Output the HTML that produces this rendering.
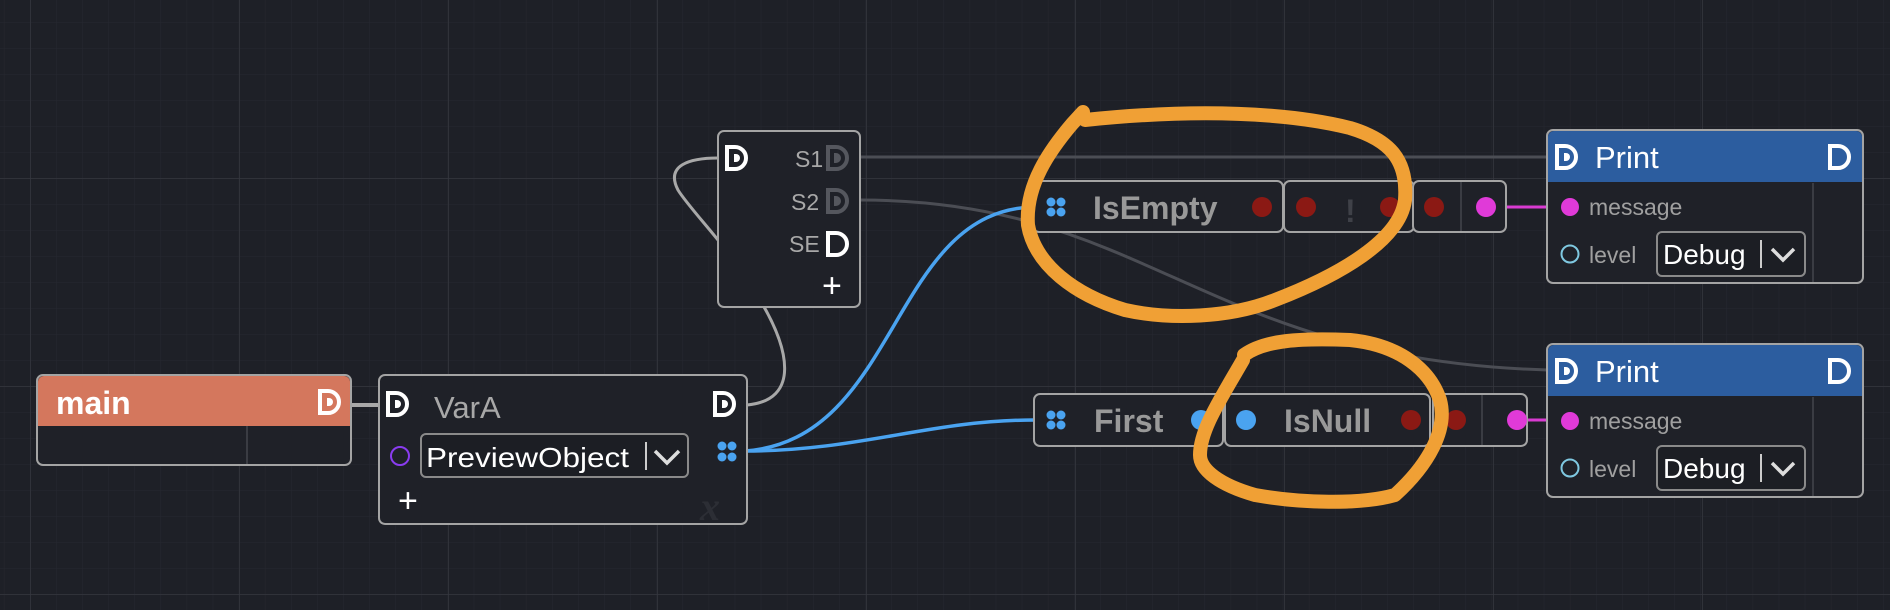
<!DOCTYPE html>
<html><head><meta charset="utf-8"><style>
html,body{margin:0;padding:0;background:#1e2027;}
svg{display:block;font-family:"Liberation Sans",sans-serif;}
</style></head><body>
<svg width="1890" height="610" viewBox="0 0 1890 610" xmlns="http://www.w3.org/2000/svg">
<defs>
<pattern id="minor" x="30" y="-30" width="26.1" height="26" patternUnits="userSpaceOnUse">
<path d="M0 0V26M0 0H26.1" stroke="#262830" stroke-width="1" fill="none"/>
</pattern>
<pattern id="major" x="30" y="-30" width="209" height="208" patternUnits="userSpaceOnUse">
<path d="M0 0V208M0 0H209" stroke="#35373f" stroke-width="1.5" fill="none"/>
</pattern>
<g id="dI"><path d="M2 2H10A11 11 0 0 1 10 24H2Z" fill="none" stroke="#fff" stroke-width="4"/><path d="M9 9H11A4 4 0 0 1 11 17H9Z" fill="#fff"/></g>
<g id="dO"><path d="M2 2H10A11 11 0 0 1 10 24H2Z" fill="none" stroke="#fff" stroke-width="4"/></g>
<g id="dG"><path d="M2 2H10A11 11 0 0 1 10 24H2Z" fill="none" stroke="#55575e" stroke-width="4"/><path d="M8 8H10A5 5 0 0 1 10 18H8Z" fill="#55575e"/></g>
</defs>
<rect width="1890" height="610" fill="#1e2027"/>
<rect width="1890" height="610" fill="url(#minor)"/>
<rect width="1890" height="610" fill="url(#major)"/>

<!-- wires -->
<path d="M351 405H380" stroke="#a8a8a8" stroke-width="4" fill="none"/>
<path d="M747 405C800 400 790 350 760 300C740 260 690 210 678 190C665 165 690 158 718 158" stroke="#a8a8a8" stroke-width="3" fill="none"/>
<path d="M860 157H1548" stroke="#4b4d54" stroke-width="3" fill="none"/>
<path d="M860 200C1150 200 1200 360 1548 370" stroke="#4b4d54" stroke-width="3" fill="none"/>
<path d="M745 451C900 440 890 210 1034 207" stroke="#4aa3f0" stroke-width="3.5" fill="none"/>
<path d="M745 451C860 451 930 420 1034 420" stroke="#4aa3f0" stroke-width="3.5" fill="none"/>
<path d="M1505 207H1548M1527 420H1548" stroke="#d93bd2" stroke-width="3" fill="none"/>

<!-- main -->
<rect x="37" y="375" width="314" height="90" rx="6" fill="#1f2128" stroke="#a4a4a4" stroke-width="2"/>
<path d="M38 426V382A6 6 0 0 1 44 376H344A6 6 0 0 1 350 382V426Z" fill="#d4775d"/>
<line x1="247" y1="426" x2="247" y2="464" stroke="#3a3c43" stroke-width="2"/>
<text x="56" y="414" font-size="32" font-weight="bold" fill="#fff">main</text>
<use href="#dI" x="318" y="389"/>

<!-- VarA -->
<rect x="379" y="375" width="368" height="149" rx="6" fill="#1f2128" stroke="#a4a4a4" stroke-width="2"/>
<use href="#dI" x="386" y="391"/>
<use href="#dI" x="713" y="391"/>
<text x="434" y="418" font-size="31" fill="#a8a8a8">VarA</text>
<circle cx="400" cy="456" r="9" fill="none" stroke="#8a3cf0" stroke-width="2"/>
<rect x="421" y="434" width="267" height="43" rx="5" fill="#1c1e24" stroke="#8a8a8a" stroke-width="2"/>
<text x="426" y="467" font-size="28" fill="#fff" textLength="203" lengthAdjust="spacingAndGlyphs">PreviewObject</text>
<line x1="646" y1="442" x2="646" y2="470" stroke="#ccc" stroke-width="2"/>
<path d="M655 451L667 463L679 451" fill="none" stroke="#ddd" stroke-width="3.5"/>
<g fill="#4aa3f0"><circle cx="722" cy="446" r="4.5"/><circle cx="732" cy="446" r="4.5"/><circle cx="722" cy="457" r="4.5"/><circle cx="732" cy="457" r="4.5"/></g>
<text x="398" y="512" font-size="34" fill="#fff">+</text>
<text x="700" y="520" font-size="40" font-style="italic" font-family="Liberation Serif,serif" font-weight="bold" fill="#2c2e35">x</text>

<!-- Sequence -->
<rect x="718" y="131" width="142" height="176" rx="6" fill="#1f2128" stroke="#a4a4a4" stroke-width="2"/>
<use href="#dI" x="725" y="145"/>
<text x="795" y="167" font-size="23" fill="#a8a8a8">S1</text><use href="#dG" x="826" y="145"/>
<text x="791" y="210" font-size="23" fill="#a8a8a8">S2</text><use href="#dG" x="826" y="188"/>
<text x="789" y="252" font-size="23" fill="#a8a8a8">SE</text><use href="#dO" x="826" y="231"/>
<text x="822" y="297" font-size="34" fill="#fff">+</text>

<!-- IsEmpty row -->
<rect x="1033" y="181" width="250" height="51" rx="6" fill="#1f2128" stroke="#a4a4a4" stroke-width="2"/>
<g fill="#4aa3f0"><circle cx="1051" cy="202" r="4.5"/><circle cx="1061" cy="202" r="4.5"/><circle cx="1051" cy="212" r="4.5"/><circle cx="1061" cy="212" r="4.5"/></g>
<text x="1093" y="219" font-size="32" font-weight="bold" fill="#999">IsEmpty</text>
<circle cx="1262" cy="207" r="10" fill="#8b1914"/>
<rect x="1284" y="181" width="130" height="51" rx="6" fill="#1f2128" stroke="#a4a4a4" stroke-width="2"/>
<circle cx="1306" cy="207" r="10" fill="#8b1914"/>
<text x="1345" y="222" font-size="32" font-weight="bold" fill="#3f4148">!</text>
<circle cx="1390" cy="207" r="10" fill="#8b1914"/>
<rect x="1413" y="181" width="93" height="51" rx="6" fill="#1f2128" stroke="#a4a4a4" stroke-width="2"/>
<line x1="1461" y1="182" x2="1461" y2="231" stroke="#3a3c43" stroke-width="2"/>
<circle cx="1434" cy="207" r="10" fill="#8b1914"/>
<circle cx="1486" cy="207" r="10" fill="#e03ad8"/>

<!-- First row -->
<rect x="1034" y="394" width="189" height="52" rx="6" fill="#1f2128" stroke="#a4a4a4" stroke-width="2"/>
<g fill="#4aa3f0"><circle cx="1051" cy="415" r="4.5"/><circle cx="1061" cy="415" r="4.5"/><circle cx="1051" cy="425" r="4.5"/><circle cx="1061" cy="425" r="4.5"/></g>
<text x="1094" y="432" font-size="32" font-weight="bold" fill="#999">First</text>
<circle cx="1201" cy="420" r="10" fill="#4aa3f0"/>
<rect x="1225" y="394" width="205" height="52" rx="6" fill="#1f2128" stroke="#a4a4a4" stroke-width="2"/>
<circle cx="1246" cy="420" r="10" fill="#4aa3f0"/>
<text x="1284" y="432" font-size="32" font-weight="bold" fill="#999">IsNull</text>
<circle cx="1411" cy="420" r="10" fill="#8b1914"/>
<rect x="1433" y="394" width="94" height="52" rx="6" fill="#1f2128" stroke="#a4a4a4" stroke-width="2"/>
<line x1="1482" y1="395" x2="1482" y2="445" stroke="#3a3c43" stroke-width="2"/>
<circle cx="1456" cy="420" r="10" fill="#8b1914"/>
<circle cx="1517" cy="420" r="10" fill="#e03ad8"/>

<!-- Print 1 -->
<g>
<rect x="1547" y="130" width="316" height="153" rx="6" fill="#1f2128" stroke="#a4a4a4" stroke-width="2"/>
<path d="M1548 182V137A6 6 0 0 1 1554 131H1856A6 6 0 0 1 1862 137V182Z" fill="#2c5d9f"/>
<line x1="1813" y1="183" x2="1813" y2="282" stroke="#3a3c43" stroke-width="2"/>
<use href="#dI" x="1555" y="144"/>
<text x="1595" y="168" font-size="31" fill="#fff">Print</text>
<use href="#dO" x="1828" y="144"/>
<circle cx="1570" cy="207" r="9" fill="#e03ad8"/>
<text x="1589" y="215" font-size="23" fill="#a0a0a0">message</text>
<circle cx="1570" cy="254" r="8.5" fill="none" stroke="#7fc8e0" stroke-width="2"/>
<text x="1589" y="263" font-size="23" fill="#a0a0a0">level</text>
<rect x="1657" y="232" width="148" height="44" rx="5" fill="#1c1e24" stroke="#8a8a8a" stroke-width="2"/>
<text x="1663" y="264" font-size="28" fill="#fff">Debug</text>
<line x1="1761" y1="240" x2="1761" y2="268" stroke="#ccc" stroke-width="2"/>
<path d="M1772 249L1783 260L1794 249" fill="none" stroke="#ddd" stroke-width="3.5"/>
</g>
<!-- Print 2 -->
<g transform="translate(0,214)">
<rect x="1547" y="130" width="316" height="153" rx="6" fill="#1f2128" stroke="#a4a4a4" stroke-width="2"/>
<path d="M1548 182V137A6 6 0 0 1 1554 131H1856A6 6 0 0 1 1862 137V182Z" fill="#2c5d9f"/>
<line x1="1813" y1="183" x2="1813" y2="282" stroke="#3a3c43" stroke-width="2"/>
<use href="#dI" x="1555" y="144"/>
<text x="1595" y="168" font-size="31" fill="#fff">Print</text>
<use href="#dO" x="1828" y="144"/>
<circle cx="1570" cy="207" r="9" fill="#e03ad8"/>
<text x="1589" y="215" font-size="23" fill="#a0a0a0">message</text>
<circle cx="1570" cy="254" r="8.5" fill="none" stroke="#7fc8e0" stroke-width="2"/>
<text x="1589" y="263" font-size="23" fill="#a0a0a0">level</text>
<rect x="1657" y="232" width="148" height="44" rx="5" fill="#1c1e24" stroke="#8a8a8a" stroke-width="2"/>
<text x="1663" y="264" font-size="28" fill="#fff">Debug</text>
<line x1="1761" y1="240" x2="1761" y2="268" stroke="#ccc" stroke-width="2"/>
<path d="M1772 249L1783 260L1794 249" fill="none" stroke="#ddd" stroke-width="3.5"/>
</g>

<!-- orange annotations -->
<path d="M1083 112L1072 124C1050 150 1025 185 1028 225C1035 265 1075 295 1125 310C1170 320 1230 318 1275 300C1340 275 1400 240 1405 200C1408 160 1390 140 1350 128C1290 113 1200 108 1085 120" fill="none" stroke="#f0a035" stroke-width="14" stroke-linecap="round" stroke-linejoin="round"/>
<path d="M1244 355C1265 340 1300 338 1350 340C1400 345 1430 370 1440 400C1448 430 1428 465 1395 495C1360 505 1300 503 1255 495C1220 485 1200 470 1200 455C1200 430 1220 400 1243 360" fill="none" stroke="#f0a035" stroke-width="14" stroke-linecap="round" stroke-linejoin="round"/>
</svg>
</body></html>
